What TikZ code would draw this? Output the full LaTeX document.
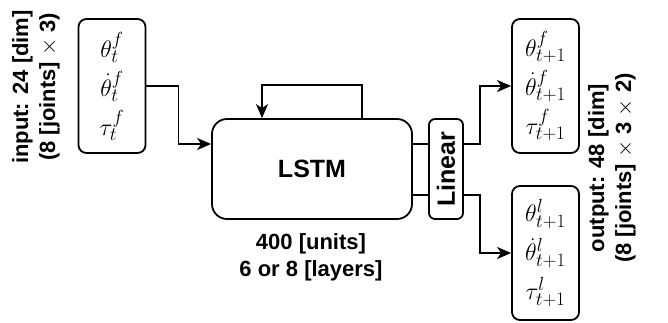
\RequirePackage{fix-cm}
\documentclass[tikz,border=0pt]{standalone}
\usepackage{fontspec}
\setmainfont{Liberation Sans}
\DeclareMathSizes{24}{24}{19}{14}
\usetikzlibrary{arrows.meta}
\begin{document}
\begin{tikzpicture}[x=1pt,y=-1pt,line width=1.8pt,
  >={Stealth[length=14pt,width=12pt,inset=4pt]},
  vecbox/.style={draw,rounded corners=8pt,minimum width=67pt,minimum height=134pt,inner sep=0pt,align=center,font=\fontsize{24}{39}\selectfont},
  lbl/.style={font=\fontsize{22}{27}\selectfont\bfseries,align=center,inner sep=0pt},
  big/.style={font=\fontsize{25}{30}\selectfont\bfseries,inner sep=0pt}]
\useasboundingbox (0,0) rectangle (668,322);
\node[vecbox] (in) at (112,86) {$\theta^f_t$\\$\dot\theta^f_t$\\$\tau^f_t$};
\node[vecbox] (out1) at (545.5,86) {$\theta^f_{t+1}$\\$\dot\theta^f_{t+1}$\\$\tau^f_{t+1}$};
\node[vecbox] (out2) at (545.5,253) {$\theta^l_{t+1}$\\$\dot\theta^l_{t+1}$\\$\tau^l_{t+1}$};
\node[draw,rounded corners=15pt,minimum width=200pt,minimum height=100pt,inner sep=0pt] (lstm) at (312,169) {};
\node[big] (lstmtxt) at (lstm.center) {LSTM};
\node[draw,rounded corners=6pt,minimum width=34pt,minimum height=100pt,inner sep=0pt] (lin) at (446,169) {};
\node[big,rotate=90] (lintxt) at (lin.center) {Linear};
\node[lbl,rotate=90] (inlbl) at (36,87) {input: 24 [dim]\\(8 [joints] $\times$ 3)};
\node[lbl,rotate=90] (outlbl) at (612,168) {output: 48 [dim]\\(8 [joints] $\times$ 3 $\times$ 2)};
\node[lbl] (units) at (311,257) {400 [units]\\6 or 8 [layers]};
\draw[->] (in.east) -- ++(32,0) |- ([yshift=25pt]lstm.west);
\draw[->] ([xshift=50pt]lstm.north) -- ++(0,-33) -| ([xshift=-50pt]lstm.north);
\draw ([yshift=25pt]lstm.east) -- ([yshift=25pt]lin.west);
\draw ([yshift=-26pt]lstm.east) -- ([yshift=-26pt]lin.west);
\draw[->] ([yshift=25pt]lin.east) -- ++(16,0) |- (out1.west);
\draw[->] ([yshift=-26pt]lin.east) -- ++(16,0) |- (out2.west);
\end{tikzpicture}
\end{document}
